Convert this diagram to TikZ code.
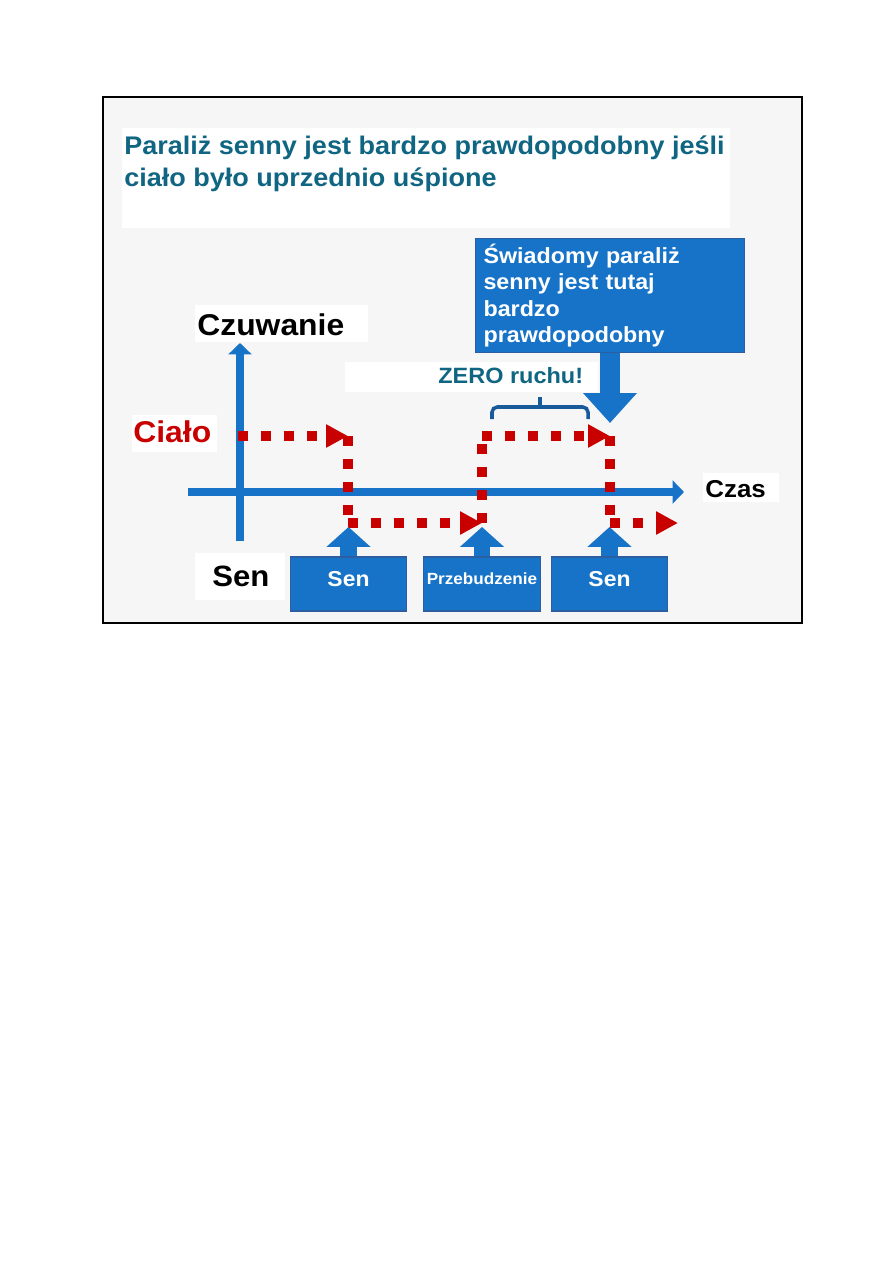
\documentclass[tikz,border=0pt]{standalone}
\usepackage{fontspec}
\setmainfont[FakeStretch=1.06]{Liberation Sans}
\usetikzlibrary{arrows.meta,positioning}
\definecolor{sky}{RGB}{22,115,200}
\definecolor{skyedge}{RGB}{45,95,160}
\definecolor{petrol}{RGB}{16,102,130}
\definecolor{blood}{RGB}{200,0,0}
\definecolor{paper}{RGB}{246,246,246}
\definecolor{bracket}{RGB}{25,90,155}

\begin{document}
\begin{tikzpicture}[x=0.2mm,y=-0.2mm,
    word/.style={anchor=base west,inner sep=0pt,font=\fontsize{17.1}{19}\selectfont\bfseries},
    bluebox/.style={fill=sky,draw=skyedge,line width=0.6pt,text=white,minimum width=23.3mm,minimum height=10.8mm,inner sep=0pt},
    uparrow/.style={sky,line width=9.6pt,-{Triangle[width=24.4pt,length=11.3pt]}},
    downarrow/.style={sky,line width=11.3pt,-{Triangle[width=29.5pt,length=17pt]}},
    axis/.style={sky,line width=4.5pt,-{Triangle[width=13pt,length=6.5pt]}},
    bodyline/.style={blood,line width=5.67pt,dash pattern=on 5.67pt off 7.37pt},
    bodyarrow/.style={bodyline,-{Triangle[width=12.5pt,length=12.5pt]}}]
  \useasboundingbox (0,0) rectangle (893,1263);
  \fill[white] (0,0) rectangle (893,1263);
  \draw[fill=paper,line width=0.8pt] (103,97) rectangle (802,623);
  \fill[white] (122,128) rectangle (730,228);
  \fill[white] (195,305) rectangle (368,342);
  \fill[white] (132,415) rectangle (217,452);
  \fill[white] (345,362) rectangle (598,392);
  \fill[white] (703,473) rectangle (779,502);
  \fill[white] (195,553) rectangle (285,600);

  \node[word,text=petrol,font=\fontsize{14.5}{18}\selectfont\bfseries] (title) at (124,154) {Paraliż senny jest bardzo prawdopodobny jeśli};
  \node[word,text=petrol,font=\fontsize{14.5}{18}\selectfont\bfseries] (title2) at (124,186) {ciało było uprzednio uśpione};

  \node[bluebox,anchor=north west,minimum width=53.8mm,minimum height=22.8mm,text width=50.6mm,inner xsep=1.6mm,align=left,
    font=\fontsize{12.5}{15.1}\selectfont\bfseries] (note) at (475,238) {Świadomy paraliż\\senny jest tutaj\\bardzo\\prawdopodobny};

  \node[word] (wake) at (197,335) {Czuwanie};
  \node[word,text=blood] (bodylabel) at (133,442) {Ciało};
  \node[word,font=\fontsize{13.9}{15}\selectfont\bfseries] (time) at (705,497) {Czas};
  \node[word,font=\fontsize{16.7}{18}\selectfont\bfseries] (sleep) at (212,586) {Sen};
  \node[word,text=petrol,font=\fontsize{12.6}{14}\selectfont\bfseries] (still) at (438,383) {ZERO ruchu!};

  \coordinate (ybot) at (240,541);
  \coordinate (ytop) at (240,343);
  \coordinate (xleft) at (188,492);
  \coordinate (xright) at (684,492);
  \draw[axis] (ybot) -- (ytop);
  \draw[axis] (xleft) -- (xright);

  \coordinate (c0) at (238,436);
  \coordinate (c1) at (348,436);
  \coordinate (c2) at (348,523);
  \coordinate (c3) at (482,523);
  \coordinate (c4) at (482,436);
  \coordinate (c5) at (610,436);
  \coordinate (c6) at (610,523);
  \coordinate (c7) at (678,523);
  \foreach \s/\e/\st in {c0/c1/bodyarrow,c1/c2/bodyline,c2/c3/bodyarrow,c3/c4/bodyline,c4/c5/bodyarrow,c5/c6/bodyline,c6/c7/bodyarrow}
    \draw[\st] (\s) -- (\e);

  \draw[bracket,line width=2pt,rounded corners=3pt] (492,419) -- (492,407) -- (588,407) -- (588,419);
  \draw[bracket,line width=2pt] (540,407) -- (540,397);

  \coordinate (hit) at (610,423);
  \draw[downarrow] (note.south -| hit) -- (hit);

  \foreach \x/\t/\f [count=\i] in {348.5/Sen/12.3,482/Przebudzenie/9.2,609.5/Sen/12.3}{
    \node[bluebox,text depth=6pt,font=\fontsize{\f}{12}\selectfont\bfseries] (b\i) at (\x,584) {\t};
    \coordinate (tip\i) at (\x,527);
    \draw[uparrow] (b\i.north) -- (tip\i);
  }
\end{tikzpicture}
\end{document}
